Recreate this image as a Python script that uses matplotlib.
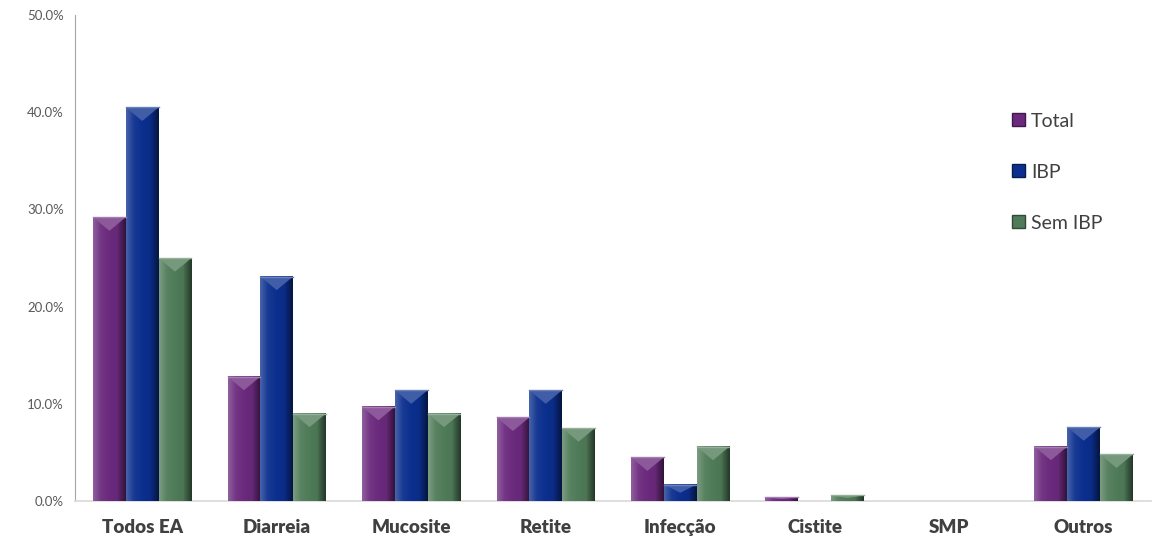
import numpy as np
import matplotlib
matplotlib.use('Agg')
import matplotlib.pyplot as plt
from matplotlib.patches import Patch
from matplotlib.colors import to_rgb
from matplotlib.ticker import FuncFormatter

categories = ['Todos EA', 'Diarreia', 'Mucosite', 'Retite', 'Infecção', 'Cistite', 'SMP', 'Outros']
total = [29.2, 12.8, 9.7, 8.6, 4.5, 0.4, 0.0, 5.6]
ibp = [40.5, 23.1, 11.4, 11.4, 1.7, 0.0, 0.0, 7.6]
sem_ibp = [25.0, 9.0, 9.0, 7.5, 5.6, 0.6, 0.0, 4.8]

series = [('Total', total, '#6b2a7d'), ('IBP', ibp, '#0b2f8e'), ('Sem IBP', sem_ibp, '#4f7b58')]

plt.rcParams['font.family'] = ['Lato', 'DejaVu Sans']

fig = plt.figure(figsize=(11.52, 5.43), dpi=100)
ax = fig.add_axes([0.0651, 0.0773, 0.934, 0.895])

x = np.arange(len(categories))
w = 0.244


def shade(col, f):
    c = np.array(to_rgb(col))
    if f > 0:
        return c + (1 - c) * f
    return c * (1 + f)


handles = []
for i, (name, vals, col) in enumerate(series):
    bars = ax.bar(x + (i - 1) * w, vals, w, color=col, edgecolor='none', zorder=2)
    # horizontal gradient for a bevel look
    prof = np.concatenate([np.linspace(0.25, 0.05, 20), np.linspace(0.05, -0.05, 40), np.linspace(-0.1, -0.55, 20)])
    grad = np.array([shade(col, f) for f in prof])[None, :, :]
    for b in bars:
        h = b.get_height()
        if h <= 0:
            continue
        x0 = b.get_x()
        x1 = x0 + b.get_width()
        ax.imshow(grad, extent=(x0, x1, 0, h), aspect='auto', zorder=3, interpolation='bilinear')
        # top chevron highlight
        th = min(1.4, h * 0.5)
        ax.fill([x0, x1, (x0 + x1) / 2], [h, h, h - th], color=shade(col, 0.22), zorder=4, lw=0)
        ax.plot([x0, x1], [h, h], color=shade(col, 0.4), lw=1, zorder=5)
    handles.append(Patch(facecolor=col, edgecolor=shade(col, -0.4), label=name))

ax.set_xlim(-0.5, len(categories) - 0.5)
ax.set_ylim(0, 50)
ax.set_yticks(np.arange(0, 51, 10))
ax.yaxis.set_major_formatter(FuncFormatter(lambda v, p: f'{v:.1f}%'))
ax.tick_params(axis='y', length=0, labelsize=9.5, labelcolor='#595959', pad=8)
ax.tick_params(axis='x', length=0, labelsize=13.5, labelcolor='#404040', pad=13)
ax.set_xticks(x)
ax.set_xticklabels(categories, fontweight='heavy')

for s in ['top', 'right']:
    ax.spines[s].set_visible(False)
ax.spines['left'].set_color('#a6a6a6')
ax.spines['bottom'].set_color('#d9d9d9')
ax.spines['bottom'].set_linewidth(1.2)

leg = ax.legend(handles=handles, loc='upper left', bbox_to_anchor=(0.855, 0.835), frameon=False,
                fontsize=14, handlelength=0.65, handleheight=0.65, handletextpad=0.3,
                labelspacing=1.75, labelcolor='#404040')

fig.savefig('out.png', dpi=100)
